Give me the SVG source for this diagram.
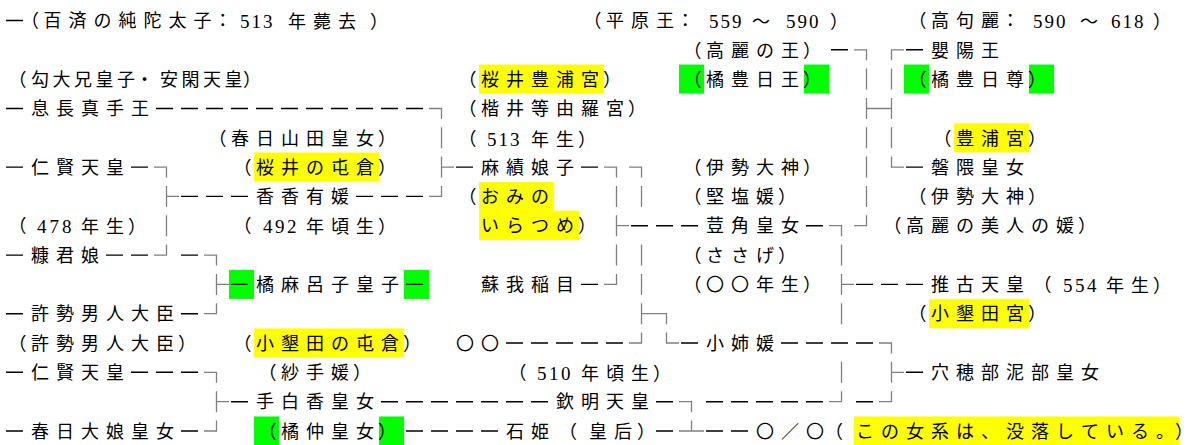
<svg xmlns="http://www.w3.org/2000/svg" width="1193" height="445" viewBox="0 0 1193 445">
<style>
.t{font-family:"Noto Sans CJK JP","Noto Sans CJK SC",sans-serif;font-size:18px;fill:#000}
.d{font-family:"Liberation Serif",serif;font-size:19px}
.y{fill:#ffff00}
.g{fill:#00ff00}
.dash{stroke:#000;stroke-width:1.4;fill:none}
.box{stroke:#808080;stroke-width:1.3;fill:none}
</style>
<rect width="1193" height="445" fill="#fff"/>
<g id="n-junda">
<text class="t" y="27.2" x="21 43.5 68.5 93.5 118.5 143.5 168.5 193.5 213.75">（百済の純陀太子：<tspan class="d" y="28.2" x="240 251.5 263">513</tspan><tspan x="288 313 338 370">年薨去）</tspan></text>
</g>
<g id="n-heigen">
<text class="t" y="27.2" x="583.5 606 631 656 676.25">（平原王：<tspan class="d" y="28.2" x="709 720.5 732">559</tspan><tspan x="752">〜</tspan><tspan class="d" y="28.2" x="786 797.5 809">590</tspan><tspan x="830">）</tspan></text>
</g>
<g id="n-kokuri">
<text class="t" y="27.2" x="908.5 931 956 981 1001.25">（高句麗：<tspan class="d" y="28.2" x="1033 1044.5 1056">590</tspan><tspan x="1080">〜</tspan><tspan class="d" y="28.2" x="1111 1122.5 1134">618</tspan><tspan x="1153">）</tspan></text>
</g>
<g id="n-komanoou">
<text class="t" y="56.5" x="683.5 706 731 756 781 803">（高麗の王）</text>
<rect class="g" x="679" y="64.6" width="25" height="29"/><rect class="g" x="804" y="64.6" width="25" height="29"/>
<text class="t" y="85.8" x="683.5 706 731 756 781 803">（橘豊日王）</text>
</g>
<g id="n-eiyo">
<text class="t" y="56.5" x="931 956 981">嬰陽王</text>
<rect class="g" x="904" y="64.6" width="25" height="29"/><rect class="g" x="1029" y="64.6" width="25" height="29"/>
<text class="t" y="85.8" x="908.5 931 956 981 1006 1028">（橘豊日尊）</text>
<rect class="y" x="954" y="123.3" width="75" height="29"/>
<text class="t" y="144.5" x="933.5 956 981 1006 1028">（豊浦宮）</text>
</g>
<g id="n-iwakuma">
<text class="t" y="173.8" x="931 956 981 1006">磐隈皇女</text>
<text class="t" y="203.1" x="908.5 931 956 981 1006 1028">（伊勢大神）</text>
</g>
<g id="n-magari">
<text class="t" y="85.8" x="8.5 31 52.5 74 95.5 117 135.5 160 181.5 203 224.5 243">（勾大兄皇子・安閑天皇）</text>
</g>
<g id="n-okinaga">
<text class="t" y="115.2" x="31 56 81 106 131">息長真手王</text>
</g>
<g id="n-miya">
<rect class="y" x="479" y="64.6" width="125" height="29"/>
<text class="t" y="85.8" x="458.5 481 506 531 556 581 603">（桜井豊浦宮）</text>
<text class="t" y="115.2" x="458.5 481 506 531 556 581 606 628">（楷井等由羅宮）</text>
<text class="t" y="144.5" x="458.5">（<tspan class="d" y="145.5" x="487 498.5 510">513</tspan><tspan x="531 556 578">年生）</tspan></text>
</g>
<g id="n-kasugayamada">
<text class="t" y="144.5" x="208.5 231 256 281 306 331 356 378">（春日山田皇女）</text>
<rect class="y" x="254" y="152.6" width="125" height="29"/>
<text class="t" y="173.8" x="233.5 256 281 306 331 356 378">（桜井の屯倉）</text>
</g>
<g id="n-ninken1">
<text class="t" y="173.8" x="31 56 81 106">仁賢天皇</text>
<text class="t" y="232.4" x="8.5">（<tspan class="d" y="233.4" x="37 49.5 62">478</tspan><tspan x="81 106 128">年生）</tspan></text>
</g>
<g id="n-omi">
<text class="t" y="173.8" x="481 506 531 556">麻績娘子</text>
<rect class="y" x="479" y="181.9" width="75" height="29"/>
<rect class="y" x="479" y="210.9" width="100" height="29"/>
<text class="t" y="203.1" x="458.5 481 506 531">（おみの</text>
<text class="t" y="232.4" x="481 506 531 556 578">いらつめ）</text>
</g>
<g id="n-kitashi">
<text class="t" y="173.8" x="683.5 706 731 756 781 803">（伊勢大神）</text>
<text class="t" y="203.1" x="683.5 706 731 756 778">（堅塩媛）</text>
</g>
<g id="n-kaka">
<text class="t" y="203.1" x="256 281 306 331">香香有媛</text>
<text class="t" y="232.4" x="233.5">（<tspan class="d" y="233.4" x="263 275 287">492</tspan><tspan x="306 331 356 378">年頃生）</tspan></text>
</g>
<g id="n-sasage">
<text class="t" y="232.4" x="706 731 756 781">荳角皇女</text>
<text class="t" y="261.8" x="683.5 706 731 756 778">（ささげ）</text>
<text class="t" y="291.1" x="683.5 706 731 756 781 803">（〇〇年生）</text>
</g>
<g id="n-bijin">
<text class="t" y="232.4" x="883.5 906 931 956 981 1006 1031 1056 1078">（高麗の美人の媛）</text>
</g>
<g id="n-nukako">
<text class="t" y="261.8" x="31 56 81">糠君娘</text>
</g>
<g id="n-maroko">
<rect class="g" x="229" y="269.9" width="25" height="29"/><rect class="g" x="404" y="269.9" width="25" height="29"/>
<text class="t" y="291.1" x="256 281 306 331 356 381">橘麻呂子皇子</text>
</g>
<g id="n-iname">
<text class="t" y="291.1" x="481 506 531 556">蘇我稲目</text>
</g>
<g id="n-suiko">
<text class="t" y="291.1" x="931 956 981 1006 1033.5">推古天皇（<tspan class="d" y="292.1" x="1063 1075 1087">554</tspan><tspan x="1106 1131 1153">年生）</tspan></text>
<rect class="y" x="929" y="299.2" width="100" height="29"/>
<text class="t" y="320.4" x="908.5 931 956 981 1006 1028">（小墾田宮）</text>
</g>
<g id="n-ose">
<text class="t" y="320.4" x="31 56 81 106 131 156">許勢男人大臣</text>
<text class="t" y="349.7" x="8.5 31 56 81 106 131 156 178">（許勢男人大臣）</text>
</g>
<g id="n-owarida">
<rect class="y" x="254" y="328.5" width="150" height="29"/>
<text class="t" y="349.7" x="233.5 256 281 306 331 356 381 403">（小墾田の屯倉）</text>
</g>
<g id="n-maru">
<text class="t" y="349.7" x="456 481">〇〇</text>
</g>
<g id="n-oane">
<text class="t" y="349.7" x="706 731 756">小姉媛</text>
</g>
<g id="n-ninken2">
<text class="t" y="379" x="31 56 81 106">仁賢天皇</text>
</g>
<g id="n-sate">
<text class="t" y="379" x="258.5 281 306 331 353">（紗手媛）</text>
</g>
<g id="n-510">
<text class="t" y="379" x="508.5">（<tspan class="d" y="380" x="537 549 561">510</tspan><tspan x="581 606 631 653">年頃生）</tspan></text>
</g>
<g id="n-anahobe">
<text class="t" y="379" x="931 956 981 1006 1031 1056 1081">穴穂部泥部皇女</text>
</g>
<g id="n-tashiraka">
<text class="t" y="408.4" x="256 281 306 331 356">手白香皇女</text>
<rect class="g" x="254" y="416.5" width="25" height="29"/><rect class="g" x="379" y="416.5" width="25" height="29"/>
<text class="t" y="437.7" x="258.5 281 306 331 356 378">（橘仲皇女）</text>
</g>
<g id="n-kinmei">
<text class="t" y="408.4" x="556 581 606 631">欽明天皇</text>
</g>
<g id="n-kasugaoiratsume">
<text class="t" y="437.7" x="31 56 81 106 131 156">春日大娘皇女</text>
</g>
<g id="n-ishihime">
<text class="t" y="437.7" x="506 531 559 589 614 637">石姫（皇后）</text>
</g>
<g id="n-botsuraku">
<rect class="y" x="854" y="416.5" width="325" height="29"/>
<text class="t" y="437.7" x="756 781 806 825 856 881 906 931 956 981 1006 1031 1056 1081 1106 1131 1156 1175">〇／〇（この女系は、没落している。）</text>
</g>
<g id="connectors">
<path class="dash" d="M6 20.5h17 M831 49.8h17 M906 49.8h17
M6 108.5h17 M156 108.5h17 M181 108.5h17 M206 108.5h17 M231 108.5h17 M256 108.5h17 M281 108.5h17 M306 108.5h17 M331 108.5h17 M356 108.5h17 M381 108.5h17 M406 108.5h17
M6 167.1h17 M131 167.1h17 M456 167.1h17 M581 167.1h17 M906 167.1h17
M181 196.4h17 M206 196.4h17 M231 196.4h17 M356 196.4h17 M381 196.4h17 M406 196.4h17
M631 225.7h17 M656 225.7h17 M681 225.7h17 M806 225.7h17
M6 255.1h17 M106 255.1h17 M131 255.1h17 M181 255.1h17
M231 284.4h17 M406 284.4h17 M581 284.4h17 M856 284.4h17 M881 284.4h17 M906 284.4h17
M6 313.7h17 M181 313.7h17
M506 343h17 M531 343h17 M556 343h17 M581 343h17 M606 343h17 M681 343h17 M781 343h17 M806 343h17 M831 343h17 M856 343h17
M6 372.3h17 M131 372.3h17 M156 372.3h17 M181 372.3h17 M906 372.3h17
M231 401.7h17 M381 401.7h17 M406 401.7h17 M431 401.7h17 M456 401.7h17 M481 401.7h17 M506 401.7h17 M531 401.7h17 M656 401.7h17 M706 401.7h17 M731 401.7h17 M756 401.7h17 M781 401.7h17 M806 401.7h17 M856 401.7h17
M6 431h17 M181 431h17 M406 431h17 M431 431h17 M456 431h17 M481 431h17 M656 431h17 M706 431h17 M731 431h17"/>
<path class="box" d="M154 167.1H166.5V177.6 M166.5 185.9V206.9 M166.5 196.4H179 M166.5 215.2V236.2 M166.5 244.6V255.1H154
M204 255.1H216.5V265.6 M216.5 273.9V294.9 M216.5 284.4H229 M216.5 303.2V313.7H204
M204 372.3H216.5V382.8 M216.5 391.2V412.2 M216.5 401.7H229 M216.5 420.5V431H204
M429 108.5H441.5V119 M441.5 127.3V148.3 M441.5 156.6V177.6 M441.5 167.1H454 M441.5 185.9V196.4H429
M604 167.1H616.5V177.6 M616.5 185.9V206.9 M616.5 215.2V236.2 M616.5 225.7H629 M616.5 244.6V265.6 M616.5 273.9V284.4H604
M629 167.1H641.5V177.6 M641.5 185.9V206.9 M641.5 244.6V265.6 M641.5 273.9V294.9 M641.5 303.2V324.2 M641.5 313.7H654 M641.5 332.5V343H629
M654 313.7H666.5V324.2 M666.5 332.5V343H679
M679 401.7H691.5V412.2 M691.5 420.5V431 M679 431H704
M829 225.7H841.5V236.2 M841.5 244.6V265.6 M841.5 273.9V294.9 M841.5 284.4H854 M841.5 303.2V324.2 M841.5 361.8V382.8 M841.5 391.2V401.7H829
M854 49.8H866.5V60.3 M866.5 68.6V89.6 M866.5 98V119 M866.5 108.5H879 M866.5 127.3V148.3 M866.5 156.6V177.6 M866.5 185.9V206.9 M866.5 215.2V225.7H854
M904 49.8H891.5V60.3 M891.5 68.6V89.6 M891.5 98V119 M891.5 108.5H879 M891.5 127.3V148.3 M891.5 156.6V167.1H904
M879 343H891.5V353.5 M891.5 361.8V382.8 M891.5 372.3H904 M891.5 391.2V401.7H879"/>
</g>
</svg>
